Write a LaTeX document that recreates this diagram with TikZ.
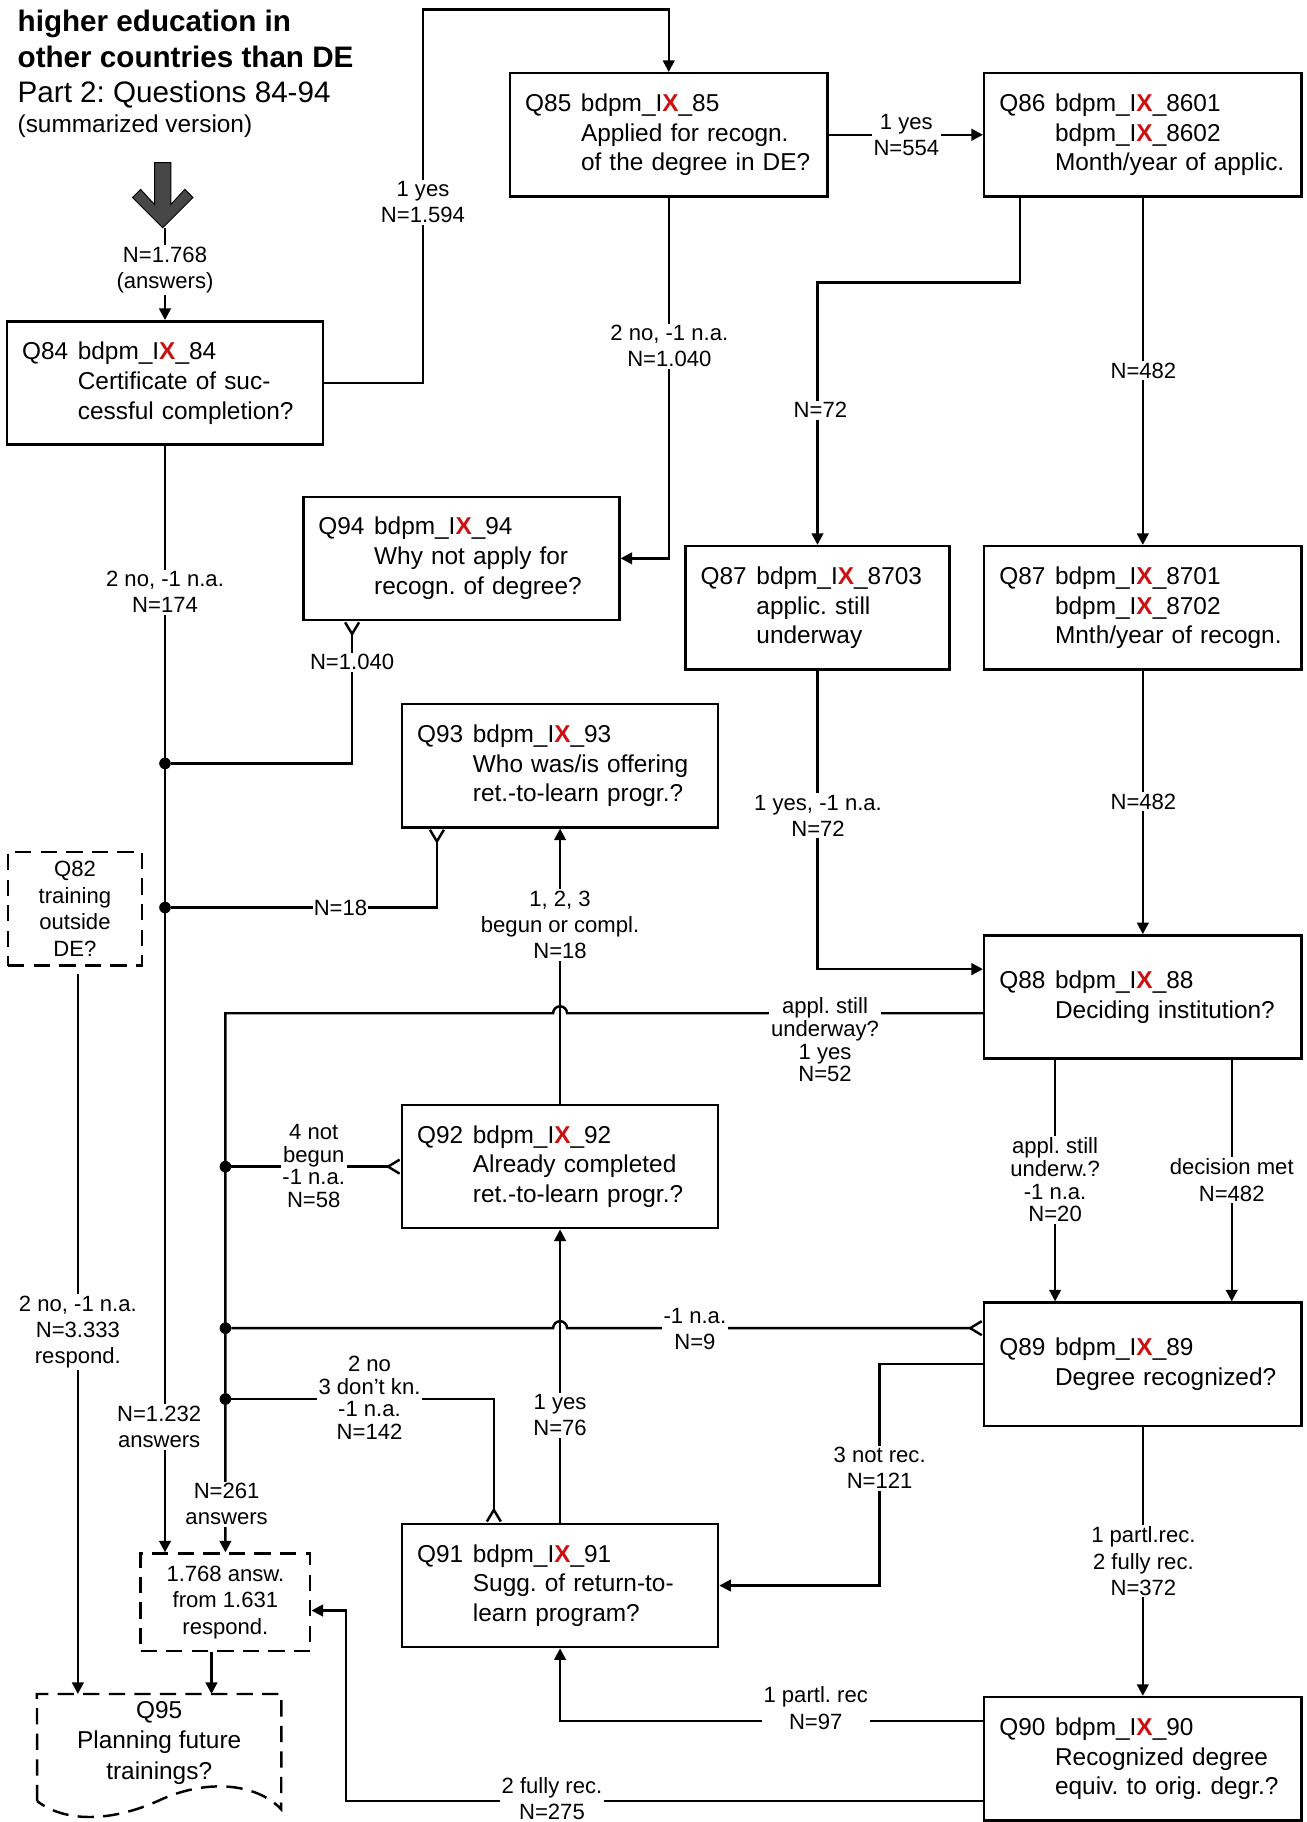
\documentclass[tikz,border=0pt]{standalone}
\usepackage{fontspec}
\setmainfont{Liberation Sans}
\usetikzlibrary{arrows.meta,calc}
\definecolor{xred}{HTML}{CC1111}
\newcommand\qx{bdpm\_I\textcolor{xred}{\textbf{X}}\_}
\newcommand\qh[2]{\makebox[48pt][l]{#1}#2}
\newcommand\qi{\hspace*{48pt}}
\frenchspacing
\begin{document}
\begin{tikzpicture}[x=1pt,y=1pt,
  lw/.style={line width=2.1pt},
  qbox/.style={draw,line width=2.1pt,minimum height=106pt,inner xsep=13pt,inner ysep=0pt,align=left,font=\fontsize{21}{25.7}\selectfont},
  dbox/.style={draw,line width=2.1pt,dash pattern=on 14pt off 8pt,inner sep=0pt,align=center,font=\fontsize{19}{23}\selectfont},
  dashline/.style={line width=2.1pt,dash pattern=on 14pt off 8pt},
  arr/.style={lw,-{Triangle[length=10pt,width=10pt]}},
  crow/.style={lw,{Straight Barb[reversed,length=10pt,width=12pt]}-},
  dot/.style={circle,fill=black,inner sep=0pt,minimum size=10pt},
  lbl/.style={fill=white,inner sep=1.5pt,align=center,font=\fontsize{19}{22.5}\selectfont},
  tight/.style={lbl,font=\fontsize{19}{19.5}\selectfont},
  title/.style={anchor=base west,inner sep=0pt}
]
\useasboundingbox (0,0) rectangle (1124,-1568);

% title
\node[title,font=\fontsize{25.5}{30}\selectfont\bfseries] (t1) at (15,-27) {higher education in};
\node[title,font=\fontsize{25.5}{30}\selectfont\bfseries] (t2) at (15,-58) {other countries than DE};
\node[title,font=\fontsize{25.5}{30}\selectfont] (t3) at (15,-88) {Part 2: Questions 84-94};
\node[title,font=\fontsize{21}{25}\selectfont] (t4) at (15,-114) {(summarized version)};

% big entry arrow
\filldraw[fill=black!72,draw=black,line width=0.8pt]
  (133,-140) -- (147,-140) -- (147,-176) -- (159,-163) -- (166,-170) -- (140,-196)
  -- (114,-170) -- (121,-163) -- (133,-176) -- cycle;
\coordinate (bigtip) at (142,-196);

% boxes
\node[qbox,text width=246pt] (q84) at (142,-329.5) {\qh{Q84}{\qx84}\\\qi Certificate of suc-\\\qi cessful completion?};
\node[qbox,text width=247pt] (q85) at (575.5,-116) {\qh{Q85}{\qx85}\\\qi Applied for recogn.\\\qi of the degree in DE?};
\node[qbox,text width=247pt] (q86) at (983.5,-116) {\qh{Q86}{\qx8601}\\\qi\qx8602\\\qi Month/year of applic.};
\node[qbox,text width=246pt] (q94) at (397,-480.5) {\qh{Q94}{\qx94}\\\qi Why not apply for\\\qi recogn. of degree?};
\node[qbox,text width=201pt] (q87a) at (703.5,-523) {\qh{Q87}{\qx8703}\\\qi applic. still\\\qi underway};
\node[qbox,text width=247pt] (q87b) at (983.5,-523) {\qh{Q87}{\qx8701}\\\qi\qx8702\\\qi Mnth/year of recogn.};
\node[qbox,text width=246pt] (q93) at (482,-659) {\qh{Q93}{\qx93}\\\qi Who was/is offering\\\qi ret.-to-learn progr.?};
\node[qbox,text width=247pt] (q88) at (983.5,-858) {\qh{Q88}{\qx88}\\\qi Deciding institution?};
\node[qbox,text width=246pt] (q92) at (482,-1004) {\qh{Q92}{\qx92}\\\qi Already completed\\\qi ret.-to-learn progr.?};
\node[qbox,text width=247pt] (q89) at (983.5,-1174) {\qh{Q89}{\qx89}\\\qi Degree recognized?};
\node[qbox,text width=246pt] (q91) at (482,-1364.5) {\qh{Q91}{\qx91}\\\qi Sugg. of return-to-\\\qi learn program?};
\node[qbox,text width=247pt] (q90) at (983.5,-1513.5) {\qh{Q90}{\qx90}\\\qi Recognized degree\\\qi equiv. to orig. degr.?};

\node[dbox,minimum width=115pt,minimum height=98pt] (q82) at (64.5,-782) {Q82\\training\\outside\\DE?};
\node[dbox,minimum width=146pt,minimum height=84pt] (ans) at (194,-1379) {1.768 answ.\\from 1.631\\respond.};
\node[inner sep=0pt,minimum width=210pt,minimum height=84pt,align=center,font=\fontsize{21}{26}\selectfont] (q95) at (137,-1500) {Q95\\Planning future\\trainings?};
\draw[dashline] (32,-1550) -- (q95.north west) -- (q95.north east) -- (242,-1557)
  .. controls (222,-1536) and (182,-1530) .. (140,-1548)
  .. controls (100,-1567) and (58,-1570) .. (32,-1550);

% junction dots
\node[dot] (d1) at (142,-657) {};
\node[dot] (d2) at (142,-781) {};
\node[dot] (d3) at (194,-1004) {};
\node[dot] (d4) at (194,-1143) {};
\node[dot] (d5) at (194,-1204) {};
\coordinate (c1) at (364,-8);

% connectors
\draw[arr] (bigtip) -- (q84.north);
\draw[arr] (q84.east) -| (c1) -| (q85.north);
\draw[arr] (q85.east) -- (q86.west);
\draw[arr] (q85.south) |- (q94.east);
\draw[arr] ([xshift=-105.5pt]q86.south) -- ++(0,-73) -| (q87a.north);
\draw[arr] (q86.south) -- (q87b.north);
\draw[arr] (q87a.south) |- ([yshift=24pt]q88.west);
\draw[arr] (q87b.south) -- (q88.north);
\draw[arr] (q84.south) -- (q84.south |- ans.north);
\draw[crow] ([xshift=-94pt]q94.south) |- (d1);
\draw[crow] ([xshift=-106pt]q93.south) |- (d2);
\draw[arr] (q92.north) -- (q93.south);
\draw[arr] ([yshift=-14pt]q88.west) -- (488,-872) arc[start angle=0,end angle=180,radius=6] -- (194,-872) -- (ans.north);
\draw[crow] (q92.west) -- (d3);
\draw[crow] ([yshift=31pt]q89.west) -- (488,-1143) arc[start angle=0,end angle=180,radius=6] -- (d4);
\draw[crow] ([xshift=-57pt]q91.north) |- (d5);
\draw[arr] (q91.north) -- (q92.south);
\draw[arr] (q89.west) -- (757,-1174) |- (q91.east);
\draw[arr] ([xshift=-75.5pt]q88.south) -- ([xshift=-75.5pt]q89.north);
\draw[arr] ([xshift=76.5pt]q88.south) -- ([xshift=76.5pt]q89.north);
\draw[arr] (q89.south) -- (q90.north);
\draw[arr] ([yshift=32.5pt]q90.west) -| (q91.south);
\draw[arr] ([yshift=-36.5pt]q90.west) -- (298,-1550) |- ([yshift=-7pt]ans.east);
\draw[arr,shorten <=6pt] ($(q82.south)+(2.5,0)$) -- ($(q82.south |- q95.north)+(2.5,0)$);
\draw[arr] ($(ans.south)+(-12,0)$) -- ($(ans.south |- q95.north)+(-12,0)$);

% labels
\node[lbl] (l1) at (364,-174) {1 yes\\N=1.594};
\node[lbl] (l2) at (780,-116) {1 yes\\N=554};
\node[lbl] (l3) at (576,-298) {2 no, -1 n.a.\\N=1.040};
\node[lbl] (l4) at (706,-353) {N=72};
\node[lbl] (l5) at (984,-319) {N=482};
\node[lbl] (l6) at (142,-232.5) {N=1.768\\(answers)};
\node[lbl] (l7) at (142,-509.5) {2 no, -1 n.a.\\N=174};
\node[lbl] (l8) at (303,-570) {N=1.040};
\node[lbl,inner sep=0.5pt] (l9) at (293,-781) {N=18};
\node[lbl] (l10) at (482,-796) {1, 2, 3\\begun or compl.\\N=18};
\node[lbl] (l11) at (704,-702) {1 yes, -1 n.a.\\N=72};
\node[lbl] (l12) at (984,-690) {N=482};
\node[tight] (l13) at (710,-895) {appl. still\\underway?\\1 yes\\N=52};
\node[tight] (l14) at (270,-1003.5) {4 not\\begun\\-1 n.a.\\N=58};
\node[lbl] (l15) at (598,-1144) {-1 n.a.\\N=9};
\node[tight] (l16) at (318,-1203) {2 no\\3 don’t kn.\\-1 n.a.\\N=142};
\node[lbl] (l17) at (482,-1218) {1 yes\\N=76};
\node[lbl] (l18) at (137,-1228) {N=1.232\\answers};
\node[lbl] (l19) at (195,-1294.5) {N=261\\answers};
\node[lbl] (l20) at (757,-1263.5) {3 not rec.\\N=121};
\node[tight] (l21) at (908,-1015.5) {appl. still\\underw.?\\-1 n.a.\\N=20};
\node[lbl,font=\fontsize{19}{23}\selectfont] (l22) at (1060,-1015.5) {decision met\\N=482};
\node[lbl] (l23) at (984,-1343.5) {1 partl.rec.\\2 fully rec.\\N=372};
\node[lbl] (l24) at (702,-1470) {1 partl. rec\\N=97};
\node[lbl] (l25) at (475,-1548) {2 fully rec.\\N=275};
\node[lbl] (l26) at (67,-1146.5) {2 no, -1 n.a.\\N=3.333\\respond.};
\end{tikzpicture}
\end{document}
